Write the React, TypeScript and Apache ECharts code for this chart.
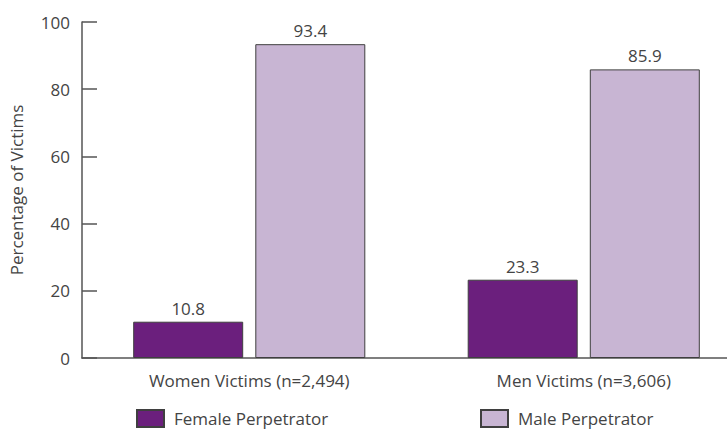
import React, { useEffect, useRef } from "react";
import * as echarts from "echarts";

const categories = ["Women Victims (n=2,494)", "Men Victims (n=3,606)"];
const femalePerpetrator = [10.8, 23.3];
const malePerpetrator = [93.4, 85.9];
const seriesNames = ["Female Perpetrator", "Male Perpetrator"];
const yTicks = { min: 0, max: 100, interval: 20 };

const FONT = "'Open Sans', 'Noto Sans', sans-serif";

export default function App() {
  const ref = useRef<HTMLDivElement>(null);
  useEffect(() => {
    if (!ref.current) return;
    const chart = echarts.init(ref.current, undefined, { renderer: "svg" });
    const labelStyle = {
      show: true,
      position: "top" as const,
      distance: 5,
      fontSize: 17,
      color: "#444",
      fontFamily: FONT,
    };
    const legendBase = {
      top: 409,
      padding: 0,
      itemWidth: 27,
      itemHeight: 17,
      itemGap: 10,
      icon: "rect",
      textStyle: { fontSize: 17, color: "#444", fontFamily: FONT, padding: [0, 0, 0, 5] },
    };
    chart.setOption({
      animation: false,
      backgroundColor: "#ffffff",
      textStyle: { fontFamily: FONT },
      grid: { left: 82, right: 0, top: 22, bottom: 72, containLabel: false },
      legend: [
        { ...legendBase, data: [seriesNames[0]], left: 136 },
        { ...legendBase, data: [seriesNames[1]], left: 480 },
      ],
      xAxis: {
        type: "category",
        data: categories,
        axisLine: { show: true, lineStyle: { color: "#555", width: 1.5 } },
        axisTick: { show: false },
        axisLabel: { fontSize: 17, color: "#444", margin: 14, fontFamily: FONT },
      },
      yAxis: {
        type: "value",
        min: yTicks.min,
        max: yTicks.max,
        interval: yTicks.interval,
        name: "Percentage of Victims",
        nameLocation: "middle",
        nameGap: 57,
        nameTextStyle: { fontSize: 17, color: "#444", fontFamily: FONT },
        axisLine: { show: true, lineStyle: { color: "#555", width: 1.5 } },
        axisTick: { show: true, inside: true, length: 15, lineStyle: { color: "#555", width: 1.5 } },
        axisLabel: { fontSize: 17, color: "#444", margin: 12, fontFamily: FONT },
        splitLine: { show: false },
      },
      series: [
        {
          name: seriesNames[0],
          type: "bar",
          data: femalePerpetrator,
          barWidth: 110,
          barGap: "11%",
          itemStyle: { color: "#6b1f7d", borderColor: "#3f3f3f", borderWidth: 1 },
          label: labelStyle,
        },
        {
          name: seriesNames[1],
          type: "bar",
          data: malePerpetrator,
          barWidth: 110,
          barGap: "11%",
          itemStyle: { color: "#c8b5d3", borderColor: "#3f3f3f", borderWidth: 1 },
          label: labelStyle,
        },
      ],
    });
    return () => chart.dispose();
  }, []);
  return (
    <div style={{ width: 727, height: 430, position: "fixed", left: 0, top: 0, overflow: "hidden", background: "#fff" }}>
      <div ref={ref} style={{ width: 751, height: 430 }} />
    </div>
  );
}
